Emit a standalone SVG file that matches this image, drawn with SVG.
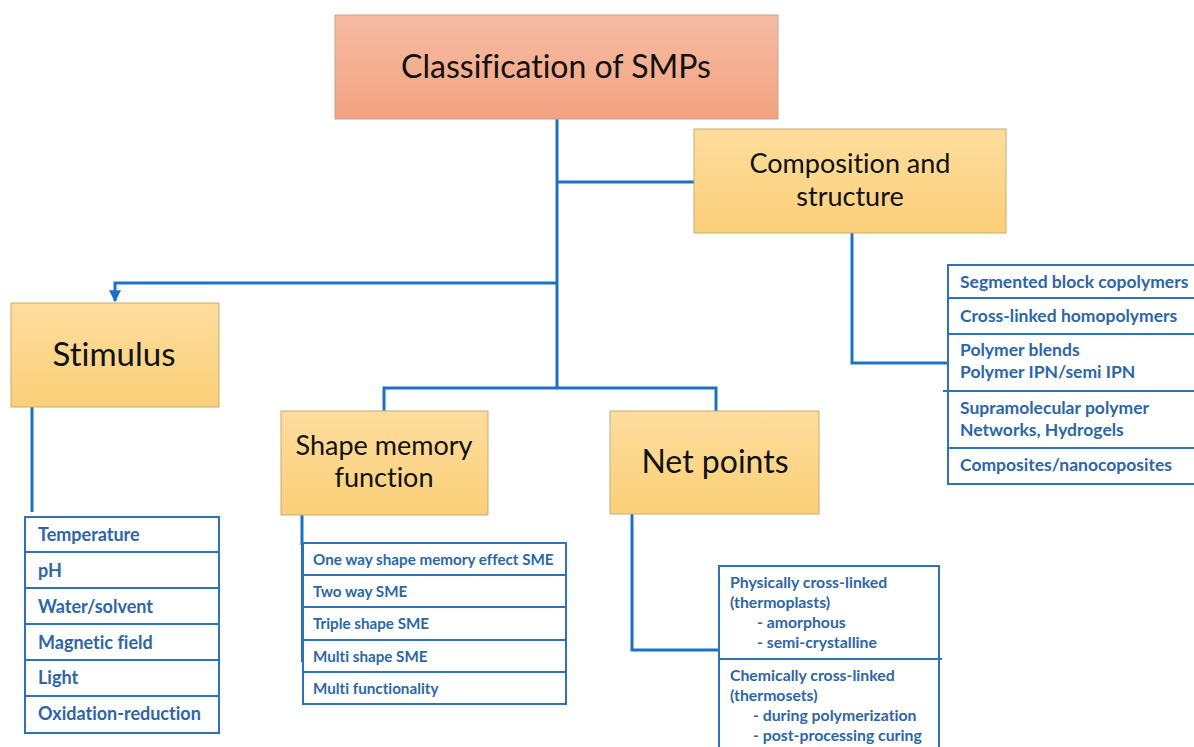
<svg xmlns="http://www.w3.org/2000/svg" width="1194" height="747" viewBox="0 0 1194 747">
<defs>
<linearGradient id="gRed" x1="0" y1="0" x2="0" y2="1"><stop offset="0" stop-color="#f6bca3"/><stop offset="1" stop-color="#f2a281"/></linearGradient>
<linearGradient id="gYel" x1="0" y1="0" x2="0" y2="1"><stop offset="0" stop-color="#fddd9e"/><stop offset="1" stop-color="#fbcf78"/></linearGradient>
<marker id="arr" viewBox="0 0 10 10" refX="9" refY="5" markerWidth="4" markerHeight="4" orient="auto"><path d="M0,0 L10,5 L0,10 z" fill="#1a72c6"/></marker>
</defs>
<style>
text{font-variant-ligatures:none}
.main{stroke:#c8a28e;stroke-width:1;fill:url(#gRed)}
.cat{stroke:#c9ab72;stroke-width:1;fill:url(#gYel)}
.big{font-family:Lato,"Liberation Sans",sans-serif;fill:#111;text-anchor:middle}
.conn{fill:none;stroke:#1a72c6;stroke-width:3}
.list{fill:#fff;stroke:#2f73b5;stroke-width:2}
.sep{stroke:#2f73b5;stroke-width:2}
.it{font-family:Lato,"Liberation Sans",sans-serif;font-weight:bold;fill:#2d66a6}
</style>
<rect width="1194" height="747" fill="#fff"/>
<g id="connectors">
<path class="conn" d="M557,119 V388"/>
<path class="conn" d="M557,182 H695"/>
<path class="conn" d="M557,283 H115 V301" marker-end="url(#arr)"/>
<path class="conn" d="M384,411 V388 H716 V411"/>
<path class="conn" d="M852,233 V363 H948"/>
<path class="conn" d="M32,407 V512"/>
<path class="conn" d="M302,515 V545"/>
<path d="M302,545 V662" stroke="#1a72c6" stroke-width="2"/>
<path class="conn" d="M632,514 V650 H719"/>
</g>
<g id="n-main">
<rect class="main" x="335" y="15" width="443" height="104"/>
<text class="big" x="556" y="78" font-size="32">Classification of SMPs</text>
</g>
<g id="n-comp">
<rect class="cat" x="694" y="129" width="312" height="104"/>
<text class="big" x="850" y="173" font-size="27">Composition and</text>
<text class="big" x="850" y="206" font-size="27">structure</text>
</g>
<g id="n-stim">
<rect class="cat" x="11" y="303" width="208" height="104"/>
<text class="big" x="114" y="366" font-size="33">Stimulus</text>
</g>
<g id="n-shape">
<rect class="cat" x="281" y="411" width="207" height="104"/>
<text class="big" x="384" y="455" font-size="27">Shape memory</text>
<text class="big" x="384" y="487" font-size="27">function</text>
</g>
<g id="n-net">
<rect class="cat" x="610" y="411" width="209" height="103"/>
<text class="big" x="715" y="473" font-size="32">Net points</text>
</g>
<g id="l-comp">
<rect class="list" x="948" y="265" width="260" height="219"/>
<line class="sep" x1="948" y1="298" x2="1194" y2="298"/>
<line class="sep" x1="948" y1="334" x2="1194" y2="334"/>
<line class="sep" x1="943" y1="391" x2="1194" y2="391"/>
<line class="sep" x1="948" y1="448" x2="1194" y2="448"/>
<text class="it" font-size="17.5" x="960" y="288">Segmented block copolymers</text>
<text class="it" font-size="17.5" x="960" y="322">Cross-linked homopolymers</text>
<text class="it" font-size="17.5" x="960" y="356">Polymer blends</text>
<text class="it" font-size="17.5" x="960" y="378">Polymer IPN/semi IPN</text>
<text class="it" font-size="17.5" x="960" y="414">Supramolecular polymer</text>
<text class="it" font-size="17.5" x="960" y="436">Networks, Hydrogels</text>
<text class="it" font-size="17.5" x="960" y="471">Composites/nanocoposites</text>
</g>
<g id="l-stim">
<rect class="list" x="25" y="517" width="194" height="216"/>
<line class="sep" x1="25" y1="552" x2="219" y2="552"/>
<line class="sep" x1="25" y1="588" x2="219" y2="588"/>
<line class="sep" x1="25" y1="624" x2="219" y2="624"/>
<line class="sep" x1="25" y1="660" x2="219" y2="660"/>
<line class="sep" x1="25" y1="696" x2="219" y2="696"/>
<text class="it" font-size="18" x="38" y="541">Temperature</text>
<text class="it" font-size="18" x="38" y="577">pH</text>
<text class="it" font-size="18" x="38" y="613">Water/solvent</text>
<text class="it" font-size="18" x="38" y="649">Magnetic field</text>
<text class="it" font-size="18" x="38" y="684">Light</text>
<text class="it" font-size="18" x="38" y="720">Oxidation-reduction</text>
</g>
<g id="l-shape">
<rect class="list" x="303" y="543" width="263" height="161"/>
<line class="sep" x1="303" y1="575" x2="566" y2="575"/>
<line class="sep" x1="303" y1="607" x2="566" y2="607"/>
<line class="sep" x1="303" y1="640" x2="566" y2="640"/>
<line class="sep" x1="303" y1="672" x2="566" y2="672"/>
<text class="it" font-size="15.2" x="313" y="565">One way shape memory effect SME</text>
<text class="it" font-size="15.2" x="313" y="597">Two way SME</text>
<text class="it" font-size="15.2" x="313" y="629">Triple shape SME</text>
<text class="it" font-size="15.2" x="313" y="662">Multi shape SME</text>
<text class="it" font-size="15.2" x="313" y="694">Multi functionality</text>
</g>
<g id="l-net">
<rect class="list" x="719" y="566" width="220" height="200"/>
<line class="sep" x1="719" y1="659" x2="942" y2="659"/>
<text class="it" font-size="15.8" x="730" y="588">Physically cross-linked</text>
<text class="it" font-size="15.8" x="730" y="608">(thermoplasts)</text>
<text class="it" font-size="15.8" x="757" y="628">- amorphous</text>
<text class="it" font-size="15.8" x="757" y="648">- semi-crystalline</text>
<text class="it" font-size="15.8" x="730" y="681">Chemically cross-linked</text>
<text class="it" font-size="15.8" x="730" y="701">(thermosets)</text>
<text class="it" font-size="15.8" x="753" y="721">- during polymerization</text>
<text class="it" font-size="15.8" x="753" y="741">- post-processing curing</text>
</g>
</svg>
